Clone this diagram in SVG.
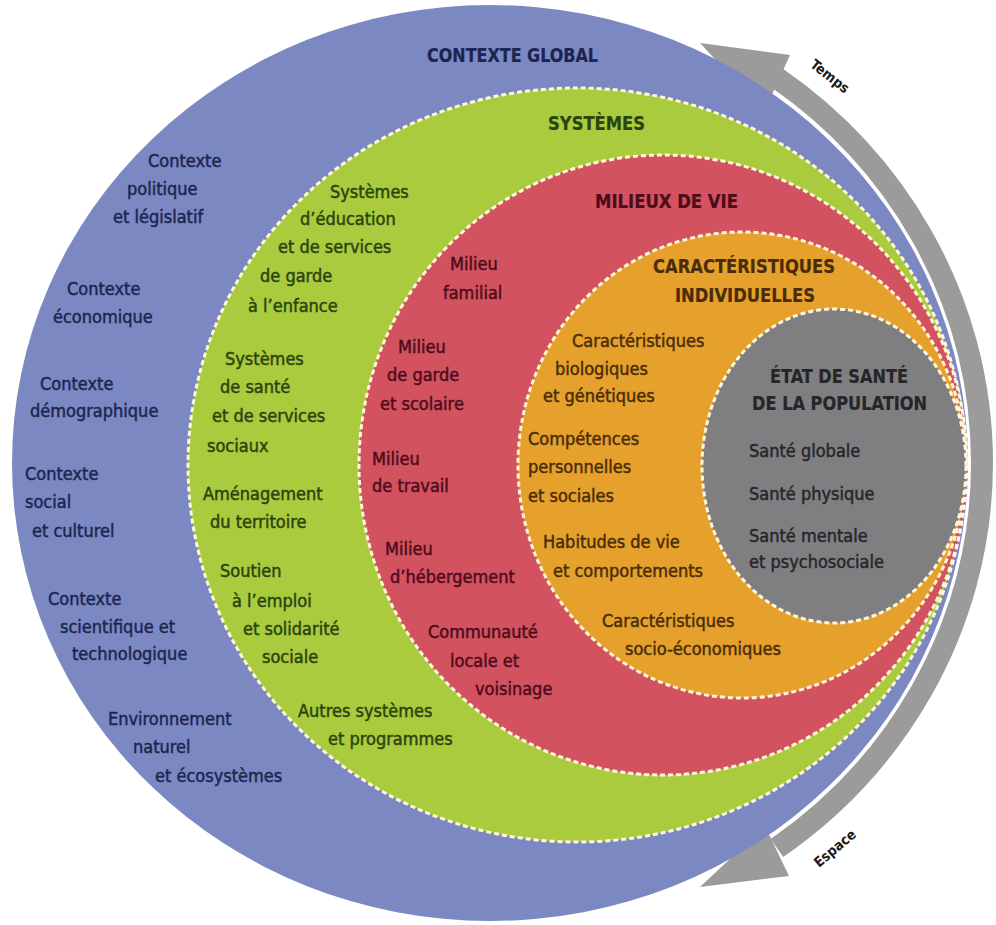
<svg xmlns="http://www.w3.org/2000/svg" width="996" height="925" viewBox="0 0 996 925">
<style>
.t{font-family:"DejaVu Sans Condensed","DejaVu Sans","Liberation Sans Narrow",sans-serif;font-stretch:condensed;font-size:18px;stroke-width:0.45px}
.h{font-weight:bold;font-size:19px;stroke-width:0.2px}
.ring{stroke:#fff6dc;stroke-width:3;stroke-dasharray:5 3}
.cb{fill:#1b2550;stroke:#1b2550}.cg{fill:#2a4410;stroke:#2a4410}.cr{fill:#4c0c1b;stroke:#4c0c1b}.co{fill:#4a2c0a;stroke:#4a2c0a}.cx{fill:#262628;stroke:#262628}
.arr{fill:#9b9b9b;stroke:#fff;stroke-width:3;stroke-linejoin:miter}
.lbl{font-family:"DejaVu Sans Condensed","DejaVu Sans",sans-serif;font-weight:bold;font-size:14px;fill:#1a1a1a}
</style>
<rect width="996" height="925" fill="#fff"/>
<g id="connectors">
<path d="M777 78 A492 474 0 0 1 777 848" fill="none" stroke="#fff" stroke-width="28"/>
<polygon class="arr" points="700,43 790,55 764,112"/>
<polygon class="arr" points="700,887 789,876 765,826"/>
<path d="M777 78 A492 474 0 0 1 777 848" fill="none" stroke="#9b9b9b" stroke-width="22"/>
<polygon points="700,43 790,55 764,112" fill="#9b9b9b"/>
<polygon points="700,887 789,876 765,826" fill="#9b9b9b"/>
<text class="lbl" transform="translate(827 80) rotate(38)" text-anchor="middle">Temps</text>
<text class="lbl" transform="translate(838 852) rotate(-40)" text-anchor="middle">Espace</text>
</g>
<g id="contexte-global">
<ellipse cx="490" cy="463" rx="478" ry="458" fill="#7b88c2"/>
<text class="t h cb" x="427" y="62" textLength="171" lengthAdjust="spacingAndGlyphs">CONTEXTE GLOBAL</text>
<g class="t cb">
<text x="148" y="167">Contexte</text><text x="127" y="195">politique</text><text x="113" y="223">et législatif</text>
<text x="67" y="295">Contexte</text><text x="53" y="323">économique</text>
<text x="40" y="390">Contexte</text><text x="30" y="417">démographique</text>
<text x="25" y="480">Contexte</text><text x="25" y="508">social</text><text x="32" y="537">et culturel</text>
<text x="48" y="605">Contexte</text><text x="60" y="633">scientifique et</text><text x="72" y="660">technologique</text>
<text x="108" y="725">Environnement</text><text x="133" y="753">naturel</text><text x="155" y="782">et écosystèmes</text>
</g>
</g>
<g id="systemes">
<ellipse class="ring" cx="577" cy="465" rx="389" ry="377" fill="#a9cb3d"/>
<text class="t h cg" x="548" y="130" textLength="97" lengthAdjust="spacingAndGlyphs">SYSTÈMES</text>
<g class="t cg">
<text x="330" y="198">Systèmes</text><text x="300" y="225">d’éducation</text><text x="278" y="253">et de services</text><text x="260" y="282">de garde</text><text x="248" y="312">à l’enfance</text>
<text x="225" y="365">Systèmes</text><text x="220" y="393">de santé</text><text x="212" y="422">et de services</text><text x="207" y="452">sociaux</text>
<text x="203" y="500">Aménagement</text><text x="210" y="528">du territoire</text>
<text x="220" y="577">Soutien</text><text x="232" y="607">à l’emploi</text><text x="243" y="635">et solidarité</text><text x="262" y="663">sociale</text>
<text x="298" y="717">Autres systèmes</text><text x="328" y="745">et programmes</text>
</g>
</g>
<g id="milieux-de-vie">
<ellipse class="ring" cx="663" cy="465" rx="304" ry="310" fill="#d2525f"/>
<text class="t h cr" x="595" y="208" textLength="143" lengthAdjust="spacingAndGlyphs">MILIEUX DE VIE</text>
<g class="t cr">
<text x="450" y="270">Milieu</text><text x="443" y="299">familial</text>
<text x="398" y="353">Milieu</text><text x="387" y="381">de garde</text><text x="380" y="410">et scolaire</text>
<text x="372" y="465">Milieu</text><text x="372" y="492">de travail</text>
<text x="385" y="555">Milieu</text><text x="390" y="583">d’hébergement</text>
<text x="428" y="638">Communauté</text><text x="450" y="667">locale et</text><text x="475" y="695">voisinage</text>
</g>
</g>
<g id="caracteristiques-individuelles">
<ellipse class="ring" cx="742" cy="465" rx="224" ry="233" fill="#e5a12b"/>
<text class="t h co" x="653" y="273" textLength="182" lengthAdjust="spacingAndGlyphs">CARACTÉRISTIQUES</text>
<text class="t h co" x="675" y="302" textLength="140" lengthAdjust="spacingAndGlyphs">INDIVIDUELLES</text>
<g class="t co">
<text x="572" y="347">Caractéristiques</text><text x="555" y="375">biologiques</text><text x="543" y="402">et génétiques</text>
<text x="528" y="445">Compétences</text><text x="528" y="473">personnelles</text><text x="528" y="502">et sociales</text>
<text x="543" y="548">Habitudes de vie</text><text x="553" y="577">et comportements</text>
<text x="602" y="627">Caractéristiques</text><text x="625" y="655">socio-économiques</text>
</g>
</g>
<g id="etat-de-sante">
<ellipse class="ring" cx="834" cy="466" rx="132" ry="157" fill="#7f7f82"/>
<text class="t h cx" x="770" y="383" textLength="138" lengthAdjust="spacingAndGlyphs">ÉTAT DE SANTÉ</text>
<text class="t h cx" x="752" y="410" textLength="175" lengthAdjust="spacingAndGlyphs">DE LA POPULATION</text>
<g class="t cx">
<text x="749" y="457">Santé globale</text>
<text x="749" y="500">Santé physique</text>
<text x="749" y="542">Santé mentale</text><text x="749" y="568">et psychosociale</text>
</g>
</g>
</svg>
